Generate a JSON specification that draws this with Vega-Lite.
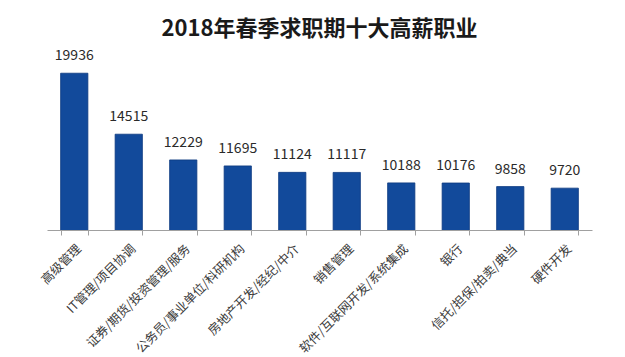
{
  "$schema": "https://vega.github.io/schema/vega-lite/v6.json",
  "width": 545,
  "height": 180,
  "autosize": {"type": "none"},
  "padding": {"left": 47, "top": 50, "right": 33, "bottom": 127},
  "background": "white",
  "title": {
    "text": "2018年春季求职期十大高薪职业",
    "font": "Noto Sans CJK SC",
    "fontSize": 22,
    "fontWeight": "bold",
    "color": "#1a1a1a",
    "anchor": "middle",
    "offset": 8
  },
  "data": {
    "values": [
      {"job": "高级管理", "salary": 19936},
      {"job": "IT管理/项目协调", "salary": 14515},
      {"job": "证券/期货/投资管理/服务", "salary": 12229},
      {"job": "公务员/事业单位/科研机构", "salary": 11695},
      {"job": "房地产开发/经纪/中介", "salary": 11124},
      {"job": "销售管理", "salary": 11117},
      {"job": "软件/互联网开发/系统集成", "salary": 10188},
      {"job": "银行", "salary": 10176},
      {"job": "信托/担保/拍卖/典当", "salary": 9858},
      {"job": "硬件开发", "salary": 9720}
    ]
  },
  "encoding": {
    "x": {
      "field": "job",
      "type": "nominal",
      "sort": null,
      "scale": {"paddingInner": 0.5, "paddingOuter": 0.25},
      "axis": {
        "title": null,
        "labelAngle": -45,
        "labelFont": "Noto Sans CJK SC",
        "labelFontSize": 12.5,
        "labelColor": "#3a3a3a",
        "labelPadding": 7,
        "labelLimit": 300,
        "domainColor": "#a0a0a0",
        "tickColor": "#a0a0a0",
        "tickSize": 5,
        "tickBand": "extent",
        "grid": false
      }
    },
    "y": {
      "field": "salary",
      "type": "quantitative",
      "scale": {"domain": [6000, 22000], "zero": false},
      "axis": null
    }
  },
  "layer": [
    {"mark": {"type": "bar", "color": "#124a9b", "stroke": "#0c3a80", "strokeWidth": 0.8, "clip": true}},
    {
      "mark": {
        "type": "text",
        "baseline": "bottom",
        "dy": -10,
        "font": "Noto Sans CJK SC",
        "fontSize": 14,
        "color": "#2a2a2a"
      },
      "encoding": {"text": {"field": "salary", "type": "quantitative", "format": "d"}}
    }
  ],
  "config": {"view": {"stroke": null}}
}
